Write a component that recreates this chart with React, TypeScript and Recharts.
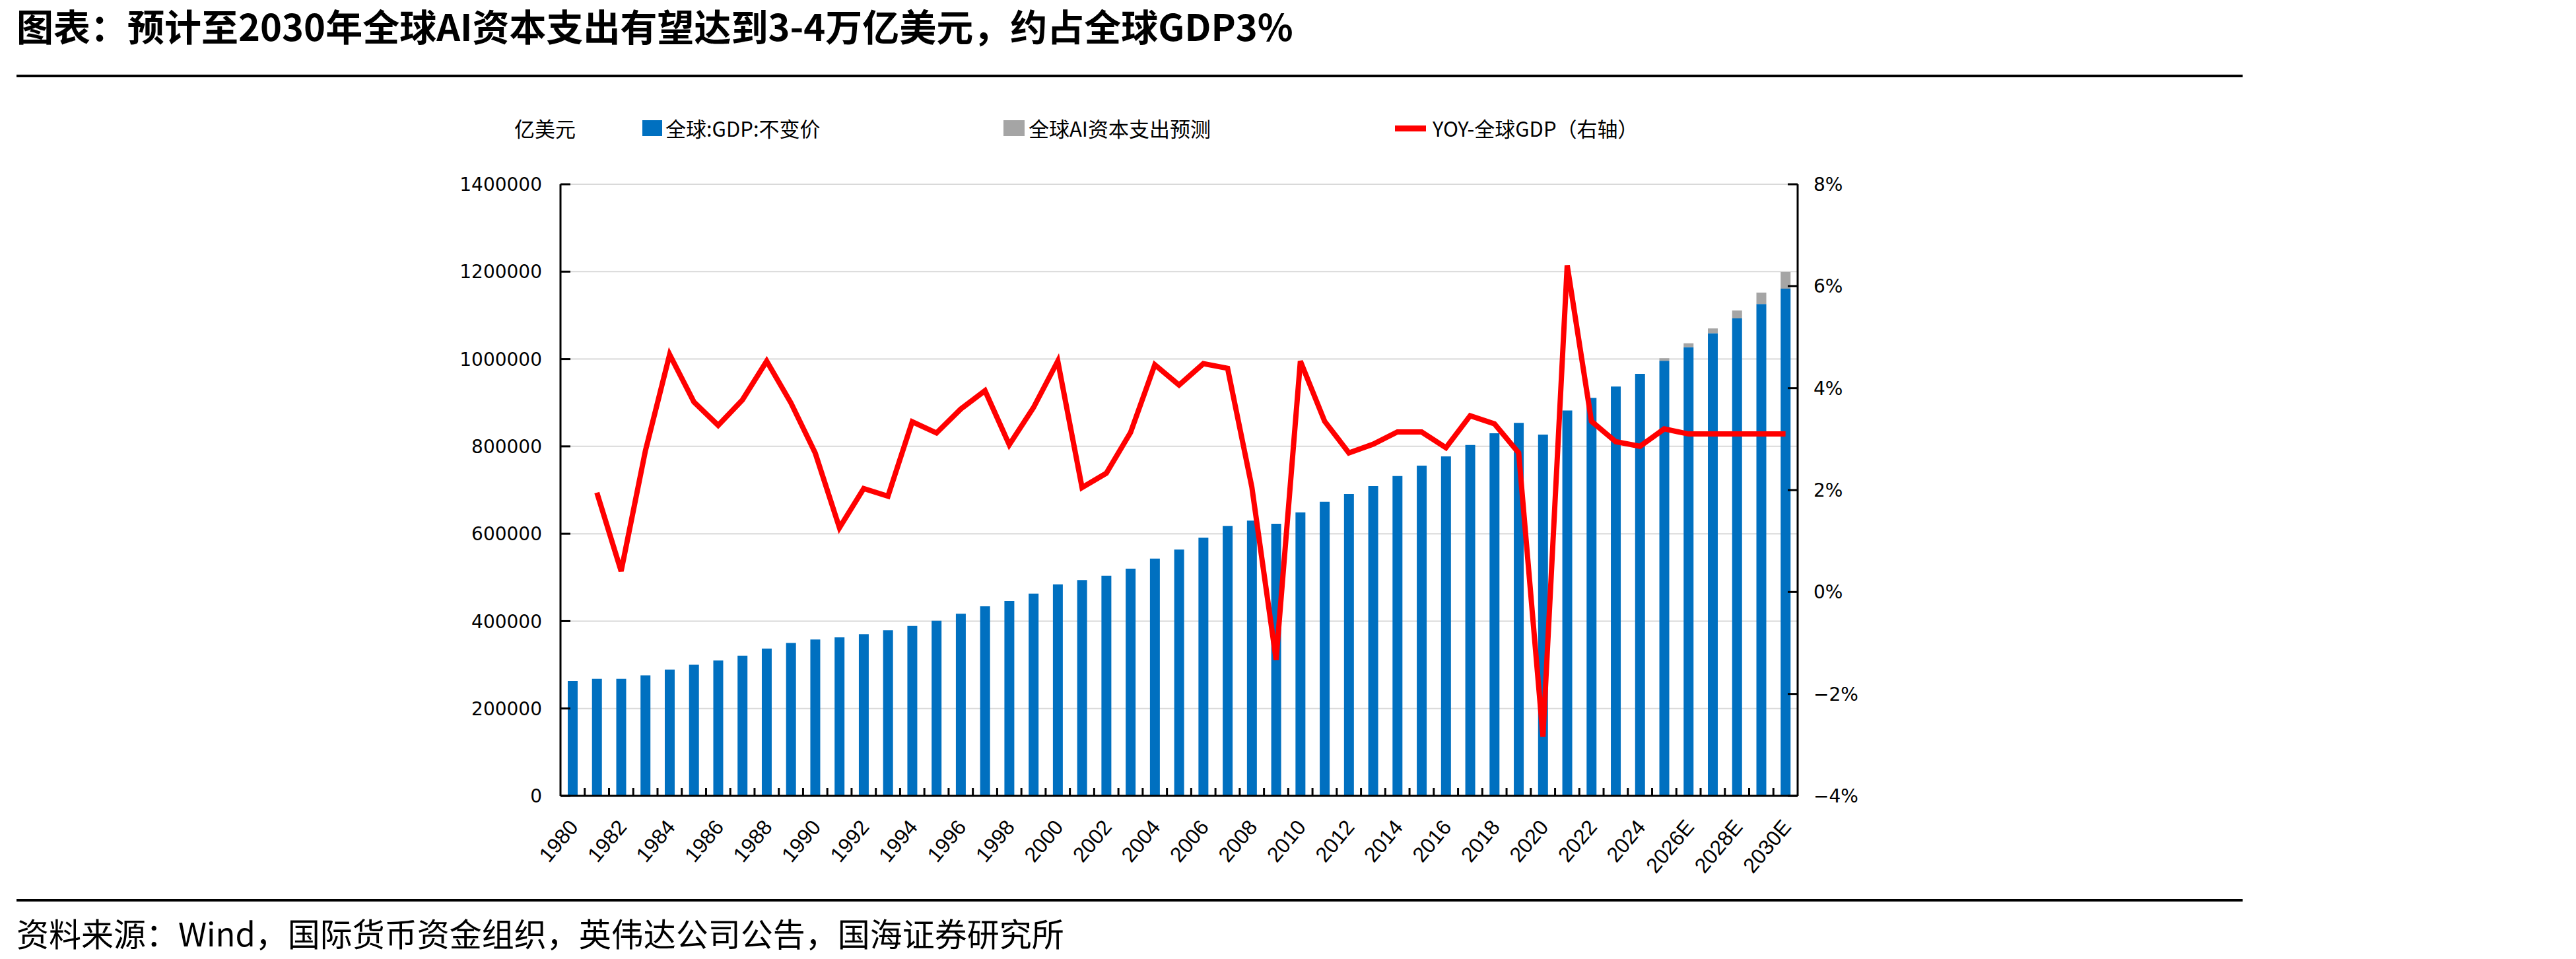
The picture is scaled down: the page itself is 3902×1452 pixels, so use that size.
import { Bar, CartesianGrid, ComposedChart, Line, XAxis, YAxis } from 'recharts'

const YEARS = [
  '1980', '1981', '1982', '1983', '1984', '1985', '1986', '1987', '1988', '1989',
  '1990', '1991', '1992', '1993', '1994', '1995', '1996', '1997', '1998', '1999',
  '2000', '2001', '2002', '2003', '2004', '2005', '2006', '2007', '2008', '2009',
  '2010', '2011', '2012', '2013', '2014', '2015', '2016', '2017', '2018', '2019',
  '2020', '2021', '2022', '2023', '2024', '2025E', '2026E', '2027E', '2028E', '2029E',
  '2030E',
]

// 全球GDP（不变价，亿美元）
const GDP = [
  263000, 268000, 268000, 276000, 289000, 300000, 310000, 321000, 337000, 350000,
  358000, 363000, 370000, 379000, 389000, 401000, 417000, 434000, 446000, 463000,
  484000, 494000, 504000, 520000, 543000, 564000, 591000, 618000, 630000, 623000,
  649000, 673000, 691000, 709000, 732000, 756000, 777000, 803000, 830000, 854000,
  827000, 882000, 911000, 937000, 966000, 996000, 1027000, 1059000, 1093000, 1126000,
  1161000,
]

// 全球AI资本支出预测（亿美元）
const AI_CAPEX = [
  null, null, null, null, null, null, null, null, null, null,
  null, null, null, null, null, null, null, null, null, null,
  null, null, null, null, null, null, null, null, null, null,
  null, null, null, null, null, null, null, null, null, null,
  null, null, null, null, null, 6000, 9000, 11000, 18000, 26000,
  38000,
]

// YOY-全球GDP（%）
const YOY = [
  null, 1.95, 0.41, 2.77, 4.66, 3.73, 3.27, 3.77, 4.53, 3.71,
  2.73, 1.26, 2.03, 1.88, 3.34, 3.12, 3.59, 3.95, 2.89, 3.62,
  4.53, 2.05, 2.33, 3.13, 4.46, 4.06, 4.48, 4.39, 2.06, -1.33,
  4.53, 3.35, 2.73, 2.9, 3.14, 3.14, 2.83, 3.46, 3.3, 2.73,
  -2.84, 6.41, 3.35, 2.95, 2.86, 3.2, 3.1, 3.1, 3.1, 3.1,
  3.1,
]

const LEFT_TICKS = [0, 200000, 400000, 600000, 800000, 1000000, 1200000, 1400000]
const RIGHT_TICKS = [-4, -2, 0, 2, 4, 6, 8]

const data = YEARS.map((year, i) => ({
  year,
  gdp: GDP[i],
  ai: AI_CAPEX[i],
  yoy: YOY[i],
}))

const PLOT_W = 1874
const BAND = PLOT_W / YEARS.length
const CJK = '"Noto Sans CJK SC", sans-serif'

const XTick = (props: any) => {
  const { x, y, payload, index } = props
  const tx = x + 10
  const ty = y + 48
  return (
    <g>
      {index < YEARS.length - 1 && (
        <line x1={x + BAND / 2} x2={x + BAND / 2} y1={y} y2={y - 12} stroke="#000" strokeWidth={3} />
      )}
      {index % 2 === 0 && (
        <text
          x={tx}
          y={ty}
          transform={`rotate(-50, ${tx}, ${ty})`}
          textAnchor="end"
          fontFamily='"Liberation Sans", Arial, sans-serif'
          fontSize={32}
          fill="#000"
        >
          {payload.value}
        </text>
      )}
    </g>
  )
}

const LeftTick = (props: any) => {
  const { x, y, payload } = props
  return (
    <g>
      <line x1={x + 28} x2={x + 43} y1={y} y2={y} stroke="#000" strokeWidth={3} />
      <text x={x} y={y} dy="0.36em" textAnchor="end" fontFamily='"DejaVu Sans", sans-serif' fontSize={28} fill="#000">
        {payload.value}
      </text>
    </g>
  )
}

const RightTick = (props: any) => {
  const { x, y, payload } = props
  const v = payload.value
  const label = v < 0 ? `\u2212${Math.abs(v)}%` : `${v}%`
  return (
    <g>
      <line x1={x - 24} x2={x - 39} y1={y} y2={y} stroke="#000" strokeWidth={3} />
      <text x={x} y={y} dy="0.36em" textAnchor="start" fontFamily='"DejaVu Sans", sans-serif' fontSize={28} fill="#000">
        {label}
      </text>
    </g>
  )
}

const legendText = { position: 'absolute' as const, top: 174, fontFamily: CJK, fontSize: 31, lineHeight: '40px', color: '#000', whiteSpace: 'nowrap' as const }

export default function App() {
  return (
    <div style={{ position: 'absolute', left: 0, top: 0, width: 3902, height: 1452, background: '#fff' }}>
      <div
        style={{
          position: 'absolute',
          left: 25,
          top: 6,
          fontFamily: CJK,
          fontWeight: 700,
          fontSize: 56,
          lineHeight: '64px',
          color: '#000',
          whiteSpace: 'nowrap',
        }}
      >
        图表：预计至2030年全球AI资本支出有望达到3-4万亿美元，约占全球GDP3%
      </div>
      <div style={{ position: 'absolute', left: 25, top: 113, width: 3372, height: 4, background: '#000' }} />

      <div style={{ ...legendText, left: 779 }}>亿美元</div>
      <div style={{ position: 'absolute', left: 973, top: 182, width: 30, height: 24, background: '#0070C0' }} />
      <div style={{ ...legendText, left: 1008 }}>全球:GDP:不变价</div>
      <div style={{ position: 'absolute', left: 1520, top: 182, width: 32, height: 24, background: '#A5A5A5' }} />
      <div style={{ ...legendText, left: 1558 }}>全球AI资本支出预测</div>
      <div style={{ position: 'absolute', left: 2113, top: 190, width: 47, height: 9, background: '#FF0000' }} />
      <div style={{ ...legendText, left: 2170 }}>YOY-全球GDP（右轴）</div>

      <div style={{ position: 'absolute', left: 0, top: 0 }}>
        <ComposedChart
          width={3902}
          height={1452}
          data={data}
          margin={{ top: 279, right: 1079, bottom: 147, left: 749 }}
        >
          <CartesianGrid yAxisId="left" vertical={false} stroke="#D9D9D9" strokeWidth={2} />
          <XAxis
            dataKey="year"
            interval={0}
            height={100}
            tickLine={false}
            tickSize={0}
            tickMargin={0}
            axisLine={{ stroke: '#000', strokeWidth: 3 }}
            tick={XTick}
          />
          <YAxis
            yAxisId="left"
            width={100}
            domain={[0, 1400000]}
            ticks={LEFT_TICKS}
            interval={0}
            tickLine={false}
            tickSize={0}
            tickMargin={28}
            axisLine={{ stroke: '#000', strokeWidth: 3 }}
            tick={LeftTick}
          />
          <YAxis
            yAxisId="right"
            orientation="right"
            width={100}
            domain={[-4, 8]}
            ticks={RIGHT_TICKS}
            interval={0}
            tickLine={false}
            tickSize={0}
            tickMargin={24}
            axisLine={{ stroke: '#000', strokeWidth: 3 }}
            tick={RightTick}
          />
          <Bar yAxisId="left" dataKey="gdp" stackId="a" fill="#0070C0" barSize={15} isAnimationActive={false} />
          <Bar yAxisId="left" dataKey="ai" stackId="a" fill="#A5A5A5" barSize={15} isAnimationActive={false} />
          <Line
            yAxisId="right"
            dataKey="yoy"
            stroke="#FF0000"
            strokeWidth={8}
            dot={false}
            activeDot={false}
            isAnimationActive={false}
          />
        </ComposedChart>
      </div>

      <div style={{ position: 'absolute', left: 25, top: 1361, width: 3372, height: 4, background: '#000' }} />
      <div
        style={{
          position: 'absolute',
          left: 25,
          top: 1384,
          fontFamily: CJK,
          fontSize: 49,
          lineHeight: '56px',
          color: '#000',
          whiteSpace: 'nowrap',
        }}
      >
        资料来源：Wind，国际货币资金组织，英伟达公司公告，国海证券研究所
      </div>
    </div>
  )
}
